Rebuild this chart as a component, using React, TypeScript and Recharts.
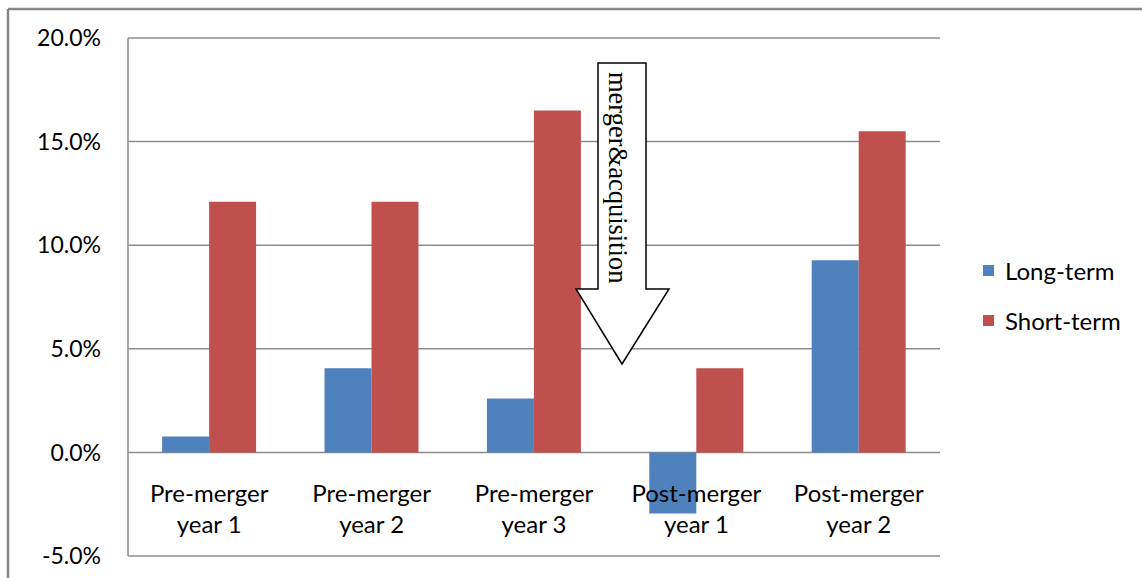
import React from 'react';
import { BarChart, Bar, XAxis, YAxis, CartesianGrid } from 'recharts';

const categories = ['Pre-merger year 1', 'Pre-merger year 2', 'Pre-merger year 3', 'Post-merger year 1', 'Post-merger year 2'];
const longTerm = [0.0077, 0.0406, 0.026, -0.0295, 0.0927];
const shortTerm = [0.121, 0.121, 0.165, 0.0406, 0.155];
const yTicks = [-0.05, 0, 0.05, 0.1, 0.15, 0.2];

const seriesNames = ['Long-term', 'Short-term'];
const colors = ['#4f81bd', '#c0504d'];

const chartData = categories.map((c, i) => ({
  name: c,
  longTerm: longTerm[i],
  shortTerm: shortTerm[i],
}));

const FONT = 'Lato, "Noto Sans", sans-serif';

const CategoryTick = (props: any) => {
  const { x, y, payload } = props;
  const text: string = payload.value;
  const idx = text.indexOf(' year');
  const line1 = text.slice(0, idx);
  const line2 = text.slice(idx + 1);
  // labels sit between the zero line and the bottom of the plot
  return (
    <text x={x} y={y} textAnchor="middle" fill="#000" fontSize={24} fontFamily={FONT}>
      <tspan x={x} dy={-62}>{line1}</tspan>
      <tspan x={x} dy={31}>{line2}</tspan>
    </text>
  );
};

const App: React.FC = () => {
  return (
    <div style={{ position: 'absolute', left: 0, top: 0, width: 1142, height: 578, overflow: 'hidden', background: '#fff' }}>
      <BarChart
        width={1142}
        height={578}
        data={chartData}
        margin={{ top: 38, right: 202, left: 8, bottom: 0 }}
        barGap={0}
        barCategoryGap="21%"
      >
        <CartesianGrid vertical={false} stroke="#8c8c8c" strokeWidth={1.5} />
        <XAxis
          dataKey="name"
          height={22}
          axisLine={false}
          tickLine={false}
          tick={(p: any) => <CategoryTick {...p} />}
          interval={0}
        />
        <YAxis
          width={120}
          domain={[-0.05, 0.2]}
          ticks={yTicks}
          tickFormatter={(v: number) => `${(v * 100).toFixed(1)}%`}
          tick={{ fill: '#000', fontSize: 23, fontFamily: FONT }}
          tickLine={false}
          tickSize={0}
          tickMargin={27}
          axisLine={{ stroke: '#8c8c8c', strokeWidth: 1.5 }}
        />
        <Bar dataKey="longTerm" name={seriesNames[0]} fill={colors[0]} isAnimationActive={false} />
        <Bar dataKey="shortTerm" name={seriesNames[1]} fill={colors[1]} isAnimationActive={false} />
      </BarChart>

      {/* legend */}
      <div style={{ position: 'absolute', left: 983, top: 255, fontFamily: FONT, fontSize: 24, color: '#000' }}>
        {seriesNames.map((n, i) => (
          <div key={n} style={{ display: 'flex', alignItems: 'center', height: 30, marginBottom: i === 0 ? 20 : 0 }}>
            <span style={{ display: 'inline-block', width: 11, height: 11, background: colors[i], marginRight: 11 }} />
            <span>{n}</span>
          </div>
        ))}
      </div>

      {/* outer frame and merger arrow annotation */}
      <svg style={{ position: 'absolute', left: 0, top: 0 }} width={1142} height={578}>
        <line x1={8} y1={9} x2={1142} y2={9} stroke="#888" strokeWidth={2.5} />
        <line x1={8} y1={9} x2={8} y2={578} stroke="#888" strokeWidth={2.5} />
        <polygon
          points="598,63 646,63 646,289 669,289 622,364 576,289 598,289"
          fill="#fff"
          stroke="#000"
          strokeWidth={1.5}
        />
        <text
          x={609}
          y={72}
          transform="rotate(90 609 72)"
          fontFamily='"Liberation Serif", "DejaVu Serif", serif'
          fontSize={26.5}
          fill="#000"
        >
          merger&amp;acquisition
        </text>
      </svg>
    </div>
  );
};

export default App;
